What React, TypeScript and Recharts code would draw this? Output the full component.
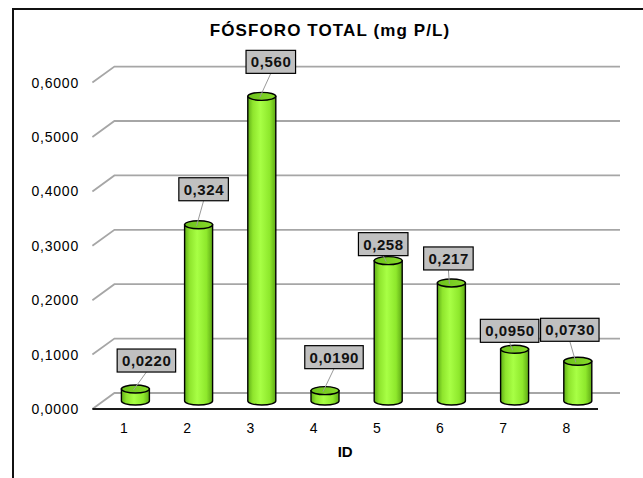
import { BarChart, Bar, XAxis, YAxis, CartesianGrid, LabelList } from 'recharts';

// data
const ids = ['1', '2', '3', '4', '5', '6', '7', '8'];
const fosforo = [0.022, 0.324, 0.56, 0.019, 0.258, 0.217, 0.095, 0.073];
const yTicks = [0, 0.1, 0.2, 0.3, 0.4, 0.5, 0.6];

// the data labels were dragged around by hand in the original (px gap above bar / px sideways)
const labelGap = [17, 24, 23, 22, 5, 13, 7, 20];
const labelShift = [11, 5, 9, 9, -5, -3, -5, -8];

const data = ids.map((id, i) => ({ id, value: fosforo[i] }));

// 3D floor depth
const DEPTH_X = 22;
const DEPTH_Y = 16;

const W = 643;
const H = 478;
const MARGIN = { top: 74.6, right: 45, bottom: 17, left: 12.4 };
const Y_AXIS_W = 80;
const X_AXIS_H = 60;
const PLOT_BOTTOM = H - MARGIN.bottom - X_AXIS_H;

const FONT = '"Liberation Sans", Arial, sans-serif';

const fmtTick = (v: number) => v.toFixed(4).replace('.', ',');
const fmtLabel = (v: number) => v.toPrecision(3).replace('.', ',');

function GridLine(props: any) {
    const { x1, x2, y1 } = props;
    const front = y1 + DEPTH_Y / 2;
    const back = y1 - DEPTH_Y / 2;
    const isFloor = Math.abs(y1 - PLOT_BOTTOM) < 1;
    return (
        <g>
            <polyline
                points={`${x1},${front} ${x1 + DEPTH_X},${back} ${x2 + DEPTH_X},${back}`}
                fill="none"
                stroke="#a6a6a6"
                strokeWidth={1.8}
            />
            {isFloor && <line x1={x1} y1={front} x2={x2} y2={front} stroke="#1a1a1a" strokeWidth={2} />}
        </g>
    );
}

function Cylinder(props: any) {
    const { x, y, width, height } = props;
    const r = width / 2;
    const ry = 4;
    const cx = x + r + DEPTH_X / 2;
    const l = cx - r;
    const rt = cx + r;
    const b = y + height;
    return (
        <g>
            <path
                d={`M${l},${y} L${l},${b} A${r},${ry} 0 0 0 ${rt},${b} L${rt},${y} Z`}
                fill="url(#cylBody)"
                stroke="#000"
                strokeWidth={1.4}
            />
            <ellipse cx={cx} cy={y} rx={r} ry={ry} fill="url(#cylTop)" stroke="#000" strokeWidth={1.4} />
        </g>
    );
}

function ValueLabel(props: any) {
    const vb = props.viewBox ?? props;
    const { x, y, width } = vb;
    const i = props.index;
    const text = fmtLabel(Number(props.value));
    const cx = x + width / 2 + DEPTH_X / 2;
    const tx = cx + labelShift[i];
    const textW = text.split('').reduce((s, c) => s + (c === ',' ? 4.17 : 8.34) + 0.6, 0);
    const w = textW + 9;
    const bottom = y - labelGap[i];
    const top = bottom - 23;
    return (
        <g>
            <line x1={tx} y1={bottom} x2={cx - 2} y2={y + 1} stroke="#9a9a9a" strokeWidth={1} />
            <rect x={tx - w / 2} y={top} width={w} height={23} fill="#c0c0c0" stroke="#000" strokeWidth={1.2} />
            <text
                x={tx + 0.3}
                y={top + 11.5}
                dy="0.36em"
                textAnchor="middle"
                fontFamily={FONT}
                fontSize={15}
                fontWeight="bold"
                letterSpacing={0.6}
                fill="#111"
            >
                {text}
            </text>
        </g>
    );
}

function YTick(props: any) {
    const { x, y, payload } = props;
    return (
        <text x={x} y={y + DEPTH_Y / 2} dy="0.36em" textAnchor="end" fontFamily={FONT} fontSize={14} letterSpacing={0.8} fill="#000">
            {fmtTick(payload.value)}
        </text>
    );
}

function XTick(props: any) {
    const { x, y, payload } = props;
    return (
        <text x={x} y={y} dy="0.71em" textAnchor="middle" fontFamily={FONT} fontSize={14} fill="#000">
            {payload.value}
        </text>
    );
}

export default function App() {
    return (
        <div style={{ position: 'fixed', left: 0, top: 0, width: W, height: H, overflow: 'hidden', background: '#fff' }}>
            <svg width={0} height={0} style={{ position: 'absolute' }}>
                <defs>
                    <linearGradient id="cylBody" x1="0" y1="0" x2="1" y2="0">
                        <stop offset="0%" stopColor="#5fae16" />
                        <stop offset="18%" stopColor="#8fe52d" />
                        <stop offset="45%" stopColor="#a8ff45" />
                        <stop offset="78%" stopColor="#8ee82c" />
                        <stop offset="100%" stopColor="#5ea914" />
                    </linearGradient>
                    <linearGradient id="cylTop" x1="0" y1="0" x2="1" y2="0">
                        <stop offset="0%" stopColor="#6cc11c" />
                        <stop offset="100%" stopColor="#86d92a" />
                    </linearGradient>
                </defs>
            </svg>

            {/* outer frame, right and bottom edges fall outside the picture */}
            <div
                style={{
                    position: 'absolute', left: 12, top: 8, width: 700, height: 520,
                    borderLeft: '2px solid #111', borderTop: '2px solid #111',
                }}
            />

            <div
                style={{
                    position: 'absolute', left: 80, top: 20.5, width: 500, textAlign: 'center',
                    fontFamily: FONT, fontSize: 17, fontWeight: 'bold', lineHeight: '20px', letterSpacing: 1.1, color: '#000',
                }}
            >
                FÓSFORO TOTAL (mg P/L)
            </div>

            <div style={{ position: 'absolute', left: 0, top: 0 }}>
                <BarChart width={W} height={H} data={data} margin={MARGIN}>
                    <CartesianGrid vertical={false} horizontal={(p: any) => <GridLine {...p} key={p.key} />} />
                    <XAxis
                        dataKey="id"
                        height={X_AXIS_H}
                        axisLine={false}
                        tickLine={false}
                        tickSize={0}
                        tickMargin={22}
                        tick={<XTick />}
                        interval={0}
                        label={{
                            value: 'ID', position: 'insideBottom', offset: 4,
                            style: { fontFamily: FONT, fontSize: 15, fontWeight: 'bold', fill: '#000' },
                        }}
                    />
                    <YAxis
                        width={Y_AXIS_W}
                        domain={[0, 0.6]}
                        ticks={yTicks}
                        axisLine={false}
                        tickLine={false}
                        tickSize={0}
                        tickMargin={13.4}
                        tick={<YTick />}
                        interval={0}
                    />
                    <Bar dataKey="value" barSize={28} shape={<Cylinder />} isAnimationActive={false}>
                        <LabelList dataKey="value" content={<ValueLabel />} />
                    </Bar>
                </BarChart>
            </div>
        </div>
    );
}
